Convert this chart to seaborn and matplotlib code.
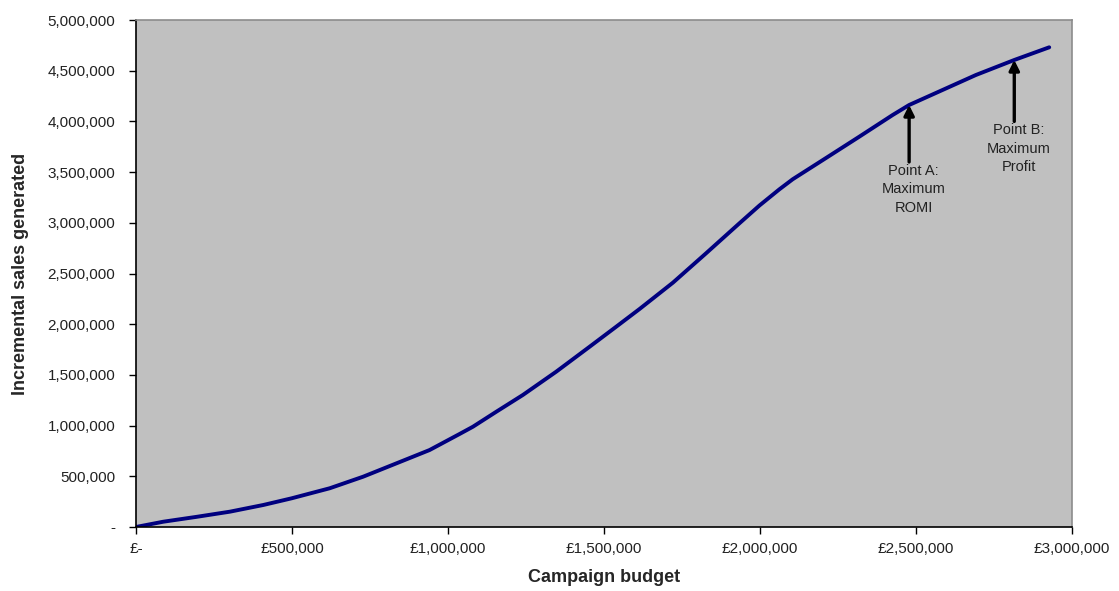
import matplotlib
matplotlib.use('Agg')
import matplotlib.pyplot as plt
import seaborn as sns
import pandas as pd

# --- Data (budget in £, sales in units) ---
budget = [0, 87400, 194000, 301000, 408000, 499000, 621000, 728000, 835000,
          941000, 1037000, 1080000, 1155000, 1240000, 1347000, 1454000,
          1539000, 1614000, 1721000, 1827000, 1934000, 1998000, 2062000,
          2105000, 2212000, 2318000, 2425000, 2478000, 2585000, 2692000,
          2815000, 2927000]
sales = [0, 52000, 100000, 151000, 217000, 283000, 382000, 496000, 628000,
         759000, 917000, 989000, 1137000, 1302000, 1532000, 1778000,
         1975000, 2150000, 2410000, 2699000, 2995000, 3170000, 3330000,
         3430000, 3640000, 3849000, 4063000, 4162000, 4310000, 4458000,
         4606000, 4731000]

x_ticks = [0, 500000, 1000000, 1500000, 2000000, 2500000, 3000000]
x_tick_labels = ['£-', '£500,000', '£1,000,000', '£1,500,000', '£2,000,000',
                 '£2,500,000', '£3,000,000']
y_ticks = [0, 500000, 1000000, 1500000, 2000000, 2500000, 3000000, 3500000,
           4000000, 4500000, 5000000]
y_tick_labels = ['-'] + [f'{v:,}' for v in y_ticks[1:]]

# annotated points: (budget, sales at arrow tip, sales at arrow tail, label)
point_a = (2478000, 4162000, 3600000, 'Point A:\nMaximum\nROMI')
point_b = (2815000, 4606000, 4000000, 'Point B:\nMaximum\nProfit')

df = pd.DataFrame({'budget': budget, 'sales': sales})

sns.set_style('white')
plt.rcParams['font.family'] = ['Liberation Sans', 'DejaVu Sans']

fig = plt.figure(figsize=(11.19, 5.91), dpi=100)
ax = fig.add_axes([0.1215, 0.1083, 0.8365, 0.8578])
ax.set_facecolor('#C0C0C0')

sns.lineplot(data=df, x='budget', y='sales', ax=ax, color='#00007F',
             linewidth=2.8)

ax.set_xlim(0, 3000000)
ax.set_ylim(0, 5000000)
ax.set_xticks(x_ticks)
ax.set_xticklabels(x_tick_labels, fontsize=11, color='#222222')
ax.set_yticks(y_ticks)
ax.set_yticklabels(y_tick_labels, fontsize=11, color='#222222')
ax.tick_params(axis='both', direction='out', length=5, width=1, color='black',
               bottom=True, left=True)
ax.tick_params(axis='x', pad=6)
ax.tick_params(axis='y', pad=10)

for side in ['left', 'bottom']:
    ax.spines[side].set_color('black')
    ax.spines[side].set_linewidth(1.2)
for side in ['top', 'right']:
    ax.spines[side].set_color('#8C8C8C')
    ax.spines[side].set_linewidth(1.2)

ax.set_xlabel('Campaign budget', fontsize=13, fontweight='bold', labelpad=9)
ax.set_ylabel('Incremental sales generated', fontsize=13, fontweight='bold',
              labelpad=13)

# arrows + labels
for bx, tip, tail, txt in [point_a, point_b]:
    ax.annotate('', xy=(bx, tip), xytext=(bx, tail),
                arrowprops=dict(arrowstyle='-|>', color='black', lw=2.4,
                                mutation_scale=15, shrinkA=0, shrinkB=0))
    ax.text(bx + 15000, tail - 20000, txt, ha='center', va='top',
            fontsize=10.5, color='#222222', linespacing=1.4)

fig.savefig('out.png', dpi=100)
